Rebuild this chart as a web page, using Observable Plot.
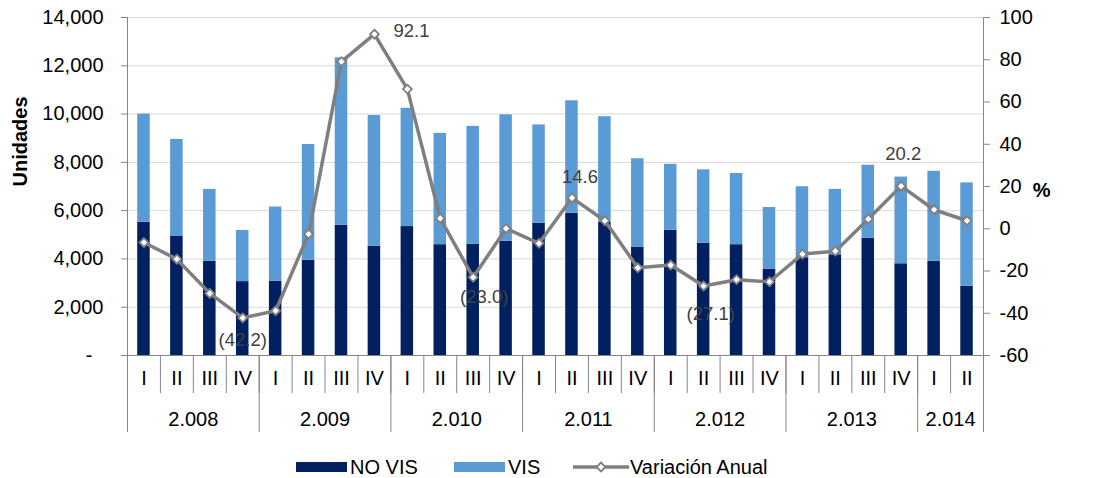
<!DOCTYPE html>
<html><head><meta charset="utf-8">
<script src="https://cdn.jsdelivr.net/npm/d3@7"></script>
<script src="https://cdn.jsdelivr.net/npm/@observablehq/plot@0.6"></script>
<style>
body{margin:0;background:#fff;overflow:hidden;font-family:"Liberation Sans",Arial,sans-serif;}
#legend{position:relative;height:38px;width:1119px;font-size:20px;color:#000;}
.item{position:absolute;top:16px;height:22px;display:flex;align-items:center;}
.sw{width:51px;height:10px;margin-right:3px;}
</style></head><body>
<div id="chart"></div>
<div id="legend">
  <div class="item" style="left:296px"><div class="sw" style="background:#002060"></div><span>NO VIS</span></div>
  <div class="item" style="left:454px"><div class="sw" style="background:#5b9bd5"></div><span>VIS</span></div>
  <div class="item" style="left:573px"><svg width="56" height="14" style="margin-right:1px"><line x1="0" y1="7" x2="56" y2="7" stroke="#7f7f7f" stroke-width="3.5"/><path d="M28,2.5L32.5,7L28,11.5L23.5,7Z" fill="#fff" stroke="#7f7f7f" stroke-width="1.8"/></svg><span>Variación Anual</span></div>
</div>
<script>
const quarters = ["I","II","III","IV","I","II","III","IV","I","II","III","IV","I","II","III","IV","I","II","III","IV","I","II","III","IV","I","II"];
const years = ["2.008","2.009","2.010","2.011","2.012","2.013","2.014"];
const yearQuarters = [4,4,4,4,4,4,2];
const noVis = [5520,4930,3900,3060,3080,3950,5390,4530,5340,4590,4610,4730,5480,5890,5520,4490,5190,4650,4590,3580,4050,4170,4860,3800,3900,2870];
const vis = [4480,4020,2980,2120,3070,4790,6940,5410,4900,4610,4880,5240,4070,4660,4370,3660,2730,3040,2950,2550,2940,2710,3020,3590,3730,4280];
const variacion = [-6.5,-14.4,-30.6,-42.2,-38.8,-2.5,79.1,92.1,66.1,4.9,-23.0,0.1,-6.9,14.6,3.8,-18.5,-17.2,-27.1,-24.1,-25.1,-12.0,-10.6,4.6,20.2,9.0,3.8];
const leftTicks = [2000,4000,6000,8000,10000,12000,14000];
const pctTicks = [-60,-40,-20,0,20,40,60,80,100];

const toU = p => (p + 60) * 14000 / 160;
const fromU = u => Math.round(u * 160 / 14000 - 60);
const rows = quarters.map((q, i) => ({i, q, noVis: noVis[i], total: noVis[i] + vis[i], pct: variacion[i]}));
const bounds = [0]; yearQuarters.forEach(n => bounds.push(bounds[bounds.length-1] + n));
const yearCenters = years.map((y, k) => (bounds[k] + bounds[k+1]) / 2);
const fmtPct = v => v < 0 ? `(${(-v).toFixed(1)})` : v.toFixed(1);
const lab = (i, dx, dy) => Plot.text([rows[i]], {x: d => d.i + 0.5, y: d => toU(d.pct), text: d => fmtPct(d.pct), dx, dy, fill: "#404040", fontSize: 18.5});
const axisGray = "#868686";

const chart = Plot.plot({
  width: 1119, height: 440, marginLeft: 127, marginRight: 136, marginTop: 17, marginBottom: 85,
  style: {fontFamily: "'Liberation Sans', Arial, sans-serif", fontSize: "20px", color: "#000", background: "#fff"},
  x: {domain: [0, 26], axis: null},
  y: {domain: [0, 14000], axis: null},
  marks: [
    Plot.gridY(leftTicks, {stroke: "#d9d9d9", strokeOpacity: 1}),
    Plot.rect(rows, {x1: d => d.i + 0.31, x2: d => d.i + 0.69, y1: 0, y2: "noVis", fill: "#002060"}),
    Plot.rect(rows, {x1: d => d.i + 0.31, x2: d => d.i + 0.69, y1: "noVis", y2: "total", fill: "#5b9bd5"}),
    Plot.ruleY([0], {stroke: axisGray}),
    Plot.ruleX([0, 26], {stroke: axisGray}),
    Plot.axisY(leftTicks, {anchor: "left", tickSize: 6, tickPadding: 18, tickFormat: d3.format(","), stroke: axisGray, fill: "#000", label: null}),
    Plot.axisY([0], {anchor: "left", tickSize: 6, tickPadding: 29, tickFormat: () => "-", stroke: axisGray, fill: "#000", label: null}),
    Plot.axisY(pctTicks.map(toU), {anchor: "right", tickSize: 6, tickPadding: 10, tickFormat: u => fromU(u), stroke: axisGray, fill: "#000", label: null}),
    Plot.axisX(d3.range(1, 26), {tickSize: 38, tickFormat: () => "", stroke: axisGray, label: null}),
    Plot.axisX(bounds, {tickSize: 77, tickFormat: () => "", stroke: axisGray, label: null}),
    Plot.axisX(rows.map(d => d.i + 0.5), {tickSize: 0, tickPadding: 15, tickFormat: d => quarters[Math.floor(d)], fill: "#000", label: null}),
    Plot.axisX(yearCenters, {tickSize: 0, tickPadding: 56, tickFormat: (d, k) => years[k], fill: "#000", label: null}),
    Plot.line(rows, {x: d => d.i + 0.5, y: d => toU(d.pct), stroke: "#7f7f7f", strokeWidth: 3.5}),
    Plot.dot(rows, {x: d => d.i + 0.5, y: d => toU(d.pct), symbol: "diamond2", r: 4, fill: "#fff", stroke: "#7f7f7f", strokeWidth: 1.8}),
    lab(3, 0, 22), lab(7, 37, -3), lab(10, 11, 20), lab(13, 8, -21), lab(17, 7, 28), lab(23, 2, -32),
    Plot.text(["Unidades"], {frameAnchor: "left", dx: -107, rotate: -90, fontWeight: "bold", fontSize: 20}),
    Plot.text(["%"], {frameAnchor: "right", dx: 67, dy: 4, fontWeight: "bold", fontSize: 20})
  ]
});
document.getElementById("chart").appendChild(chart);
</script></body></html>
